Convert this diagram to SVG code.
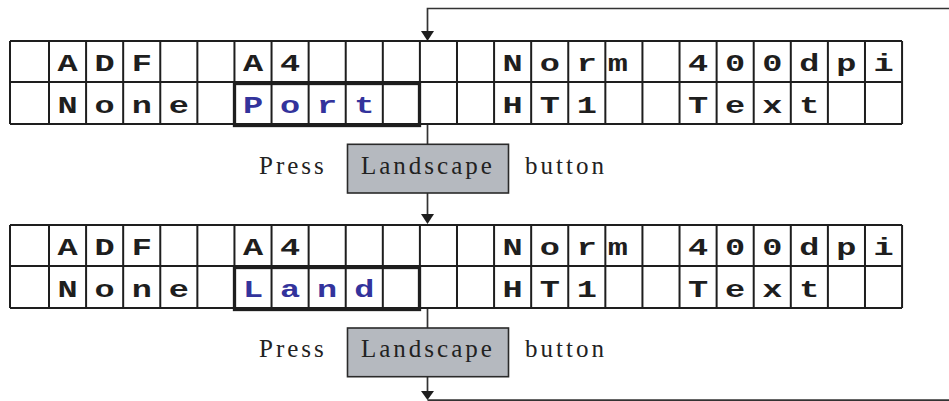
<svg xmlns="http://www.w3.org/2000/svg" width="949" height="401" viewBox="0 0 949 401">
<style>
.grid{fill:none;stroke:#1e1e1e;stroke-width:2}
.sel{fill:none;stroke:#1e1e1e;stroke-width:3.3}
.ch{font-family:"Liberation Mono","DejaVu Sans Mono",monospace;font-weight:bold;font-size:24px;fill:#1e1e1e;text-anchor:middle}
.bl{fill:#33339c}
.lbl{font-family:"Liberation Serif","Times New Roman",serif;font-size:25px;letter-spacing:3px;fill:#222}
.btn{fill:#b5b9bf;stroke:#2a2a2a;stroke-width:1.6}
.conn{fill:none;stroke:#333;stroke-width:1.7}
</style>
<defs>
<marker id="ah" markerWidth="13" markerHeight="10" refX="6.5" refY="10" orient="auto-start-reverse" markerUnits="userSpaceOnUse" viewBox="0 0 13 10">
<path d="M0 0L13 0L6.5 10Z" fill="#1e1e1e" transform="rotate(-90 6.5 5) translate(0 0)"/>
</marker>
<g id="gridlines">
<path class="grid" d="M10 41H902M10 82H902M10 124H902M10 41V124M49 41V124M86.09 41V124M123.18 41V124M160.27 41V124M197.36 41V124M234.45 41V124M271.54 41V124M308.63 41V124M345.72 41V124M382.81 41V124M419.9 41V124M456.99 41V124M494.08 41V124M531.17 41V124M568.26 41V124M605.35 41V124M642.44 41V124M679.53 41V124M716.62 41V124M753.71 41V124M790.8 41V124M827.89 41V124M864.98 41V124M902.07 41V124"/>
</g>
<g id="row1text" transform="scale(1.4,1)">
<text class="ch" x="48.25" y="71">A</text>
<text class="ch" x="74.74" y="71">D</text>
<text class="ch" x="101.24" y="71">F</text>
<text class="ch" x="180.71" y="71">A</text>
<text class="ch" x="207.21" y="71">4</text>
<text class="ch" x="366.16" y="71">N</text>
<text class="ch" x="392.66" y="71">o</text>
<text class="ch" x="419.15" y="71">r</text>
<text class="ch" x="441.36" y="71">m</text>
<text class="ch" x="498.63" y="71">4</text>
<text class="ch" x="525.12" y="71">0</text>
<text class="ch" x="551.61" y="71">0</text>
<text class="ch" x="578.11" y="71">d</text>
<text class="ch" x="604.6" y="71">p</text>
<text class="ch" x="631.09" y="71">i</text>
<text class="ch" x="48.25" y="113">N</text>
<text class="ch" x="74.74" y="113">o</text>
<text class="ch" x="101.24" y="113">n</text>
<text class="ch" x="127.73" y="113">e</text>
<text class="ch" x="366.16" y="113">H</text>
<text class="ch" x="392.66" y="113">T</text>
<text class="ch" x="419.15" y="113">1</text>
<text class="ch" x="498.63" y="113">T</text>
<text class="ch" x="525.12" y="113">e</text>
<text class="ch" x="551.61" y="113">x</text>
<text class="ch" x="578.11" y="113">t</text>
</g>
</defs>

<g id="connectors">
<path class="conn" d="M960 8.5H427.5V31"/>
<path d="M421 31H434L427.5 41Z" fill="#1e1e1e"/>
<path class="conn" d="M427.5 124V144"/>
<path class="conn" d="M427.5 193V214"/>
<path d="M421 214H434L427.5 224Z" fill="#1e1e1e"/>
<path class="conn" d="M427.5 308V328"/>
<path class="conn" d="M427.5 377V391"/>
<path d="M421 391H434L427.5 400Z" fill="#1e1e1e"/>
<path class="conn" d="M427.5 400.2H960"/>
</g>

<g id="display-portrait">
<use href="#gridlines"/>
<use href="#row1text"/>
<rect class="sel" x="234.5" y="83.5" width="185" height="42"/>
<g transform="scale(1.4,1)">
<text class="ch bl" x="180.71" y="113">P</text>
<text class="ch bl" x="207.21" y="113">o</text>
<text class="ch bl" x="233.7" y="113">r</text>
<text class="ch bl" x="260.19" y="113">t</text>
</g>
</g>

<g id="press-1">
<text class="lbl" x="259" y="173.5">Press</text>
<rect class="btn" x="347.5" y="144.3" width="161" height="48.7"/>
<text class="lbl" x="361" y="173.5">Landscape</text>
<text class="lbl" x="525" y="173.5">button</text>
</g>

<g id="display-landscape" transform="translate(0 184)">
<use href="#gridlines"/>
<use href="#row1text"/>
<rect class="sel" x="234.5" y="83.5" width="185" height="42"/>
<g transform="scale(1.4,1)">
<text class="ch bl" x="180.71" y="113">L</text>
<text class="ch bl" x="207.21" y="113">a</text>
<text class="ch bl" x="233.7" y="113">n</text>
<text class="ch bl" x="260.19" y="113">d</text>
</g>
</g>

<g id="press-2">
<text class="lbl" x="259" y="357">Press</text>
<rect class="btn" x="347.5" y="328" width="161" height="48.7"/>
<text class="lbl" x="361" y="357">Landscape</text>
<text class="lbl" x="525" y="357">button</text>
</g>
</svg>
